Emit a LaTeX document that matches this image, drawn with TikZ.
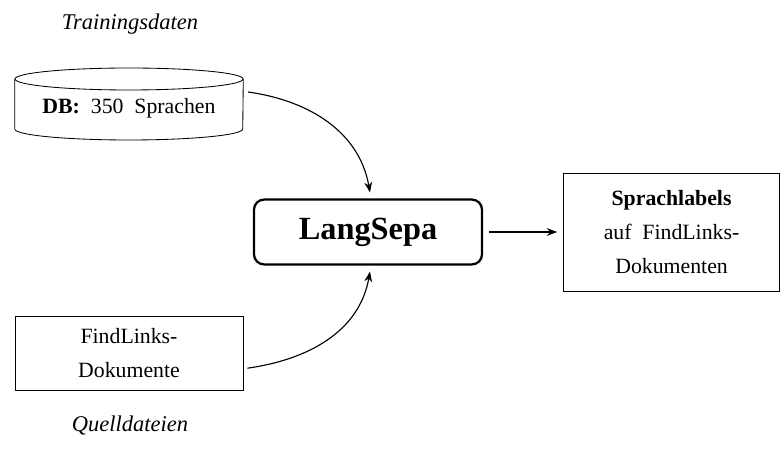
\documentclass[tikz,border=0pt]{standalone}
\usepackage{fontspec}
\setmainfont{Liberation Serif}
\usepackage{tikz}
\usetikzlibrary{arrows.meta,positioning,shapes.geometric}

\begin{document}
\begin{tikzpicture}[
  box/.style={rectangle, draw, semithick, minimum width=5.7cm, align=center, font=\fontsize{15.5}{24}\selectfont},
  dbbox/.style={rectangle, inner sep=0pt, minimum width=5.7cm, font=\fontsize{15.5}{18}\selectfont},
  mainbox/.style={rectangle, rounded corners=2.5mm, draw, line width=1.6pt, minimum width=5.7cm, minimum height=1.62cm, font=\fontsize{23}{27}\selectfont\bfseries},
  caption/.style={font=\fontsize{16}{19}\selectfont\itshape},
  arr/.style={-{Stealth[length=2.6mm]}, thick}
]
\useasboundingbox (0,0) rectangle (19.575,11.2);
\node[mainbox] (lang) at (9.2,5.4) {LangSepa};
\node[dbbox] (db) at (3.225,8.5) {\textbf{DB:}~~350~~Sprachen};
% database outline
\draw[semithick] ([yshift=0.725cm]db.center) ellipse [x radius=2.85cm, y radius=0.275cm];
\draw[semithick] ([yshift=0.725cm]db.west) -- ([yshift=-0.525cm]db.west)
  arc[start angle=180, end angle=360, x radius=2.85cm, y radius=0.275cm] -- ([yshift=0.725cm]db.east);
\node[box, minimum height=1.85cm] (src) at (3.225,2.375) {FindLinks-\\Dokumente};
\node[box, minimum width=5.4cm, minimum height=2.95cm, right=2cm of lang] (out) {\textbf{Sprachlabels}\\auf~~FindLinks-\\Dokumenten};
\node[caption] (train) at (3.25,10.6) {Trainingsdaten};
\node[caption] (quell) at (3.25,0.55) {Quelldateien};
\draw[arr] ([xshift=0.12cm, yshift=0.4cm]db.east) to[out=-8, in=100] ([xshift=0.05cm, yshift=0.15cm]lang.north);
\draw[arr] ([xshift=0.1cm, yshift=-0.38cm]src.east) to[out=8, in=-100] ([xshift=0.05cm, yshift=-0.15cm]lang.south);
\draw[arr] ([xshift=0.15cm]lang.east) -- ([xshift=-0.15cm]out.west);
\end{tikzpicture}
\end{document}
